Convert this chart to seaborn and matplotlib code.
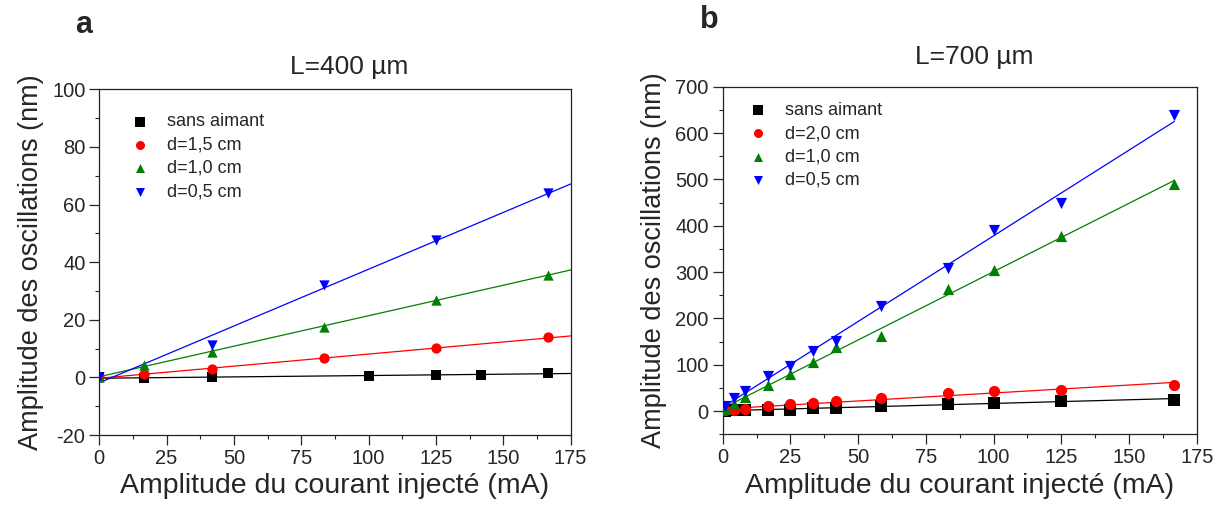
import numpy as np
import pandas as pd
import matplotlib
matplotlib.use('Agg')
import matplotlib.pyplot as plt
from matplotlib.ticker import MultipleLocator
import seaborn as sns

# panel a : L = 400 um
x_a_black = [0, 16.7, 41.7, 100, 125, 141.7, 166.7]
y_a_black = [0, -0.3, 0.0, 0.5, 0.9, 0.9, 1.5]
x_a = [0, 16.7, 41.7, 83.3, 125, 166.7]
y_a_red = [0, 1.2, 2.8, 6.6, 10.1, 13.9]
y_a_green = [0, 4.3, 8.9, 17.6, 26.9, 35.5]
x_a_blue = [0, 41.7, 83.3, 125, 166.7]
y_a_blue = [0, 11.2, 32.1, 47.7, 63.9]
labels_a = ['sans aimant', 'd=1,5 cm', 'd=1,0 cm', 'd=0,5 cm']

# panel b : L = 700 um
x_b = [0.83, 4.17, 8.33, 16.7, 25, 33.3, 41.7, 58.3, 83.3, 100, 125, 166.7]
y_b_black = [1, 1.4, 1.4, 3.5, 3.5, 6.4, 7.1, 10.7, 14.3, 17.8, 22.2, 25]
y_b_red = [3, 1.4, 5, 10, 14.3, 17.1, 21.4, 28.6, 38.7, 43, 46.5, 56]
y_b_green = [5, 15.7, 30, 56.5, 80.2, 105.3, 137.6, 162.6, 263, 303.8, 377.6, 491]
y_b_blue = [12, 28.6, 43, 76.5, 98, 130, 151.8, 227, 309.6, 390, 449, 639]
labels_b = ['sans aimant', 'd=2,0 cm', 'd=1,0 cm', 'd=0,5 cm']

colors = ['black', '#ff0000', '#008000', '#0000ff']
markers = ['s', 'o', '^', 'v']

sns.set_style('ticks')
plt.rcParams['font.family'] = ['Liberation Sans', 'DejaVu Sans']
plt.rcParams['axes.unicode_minus'] = False

fig = plt.figure(figsize=(12.24, 5.05), dpi=100)
ax_a = fig.add_axes([0.0811, 0.1386, 0.3851, 0.6846])
ax_b = fig.add_axes([0.5904, 0.1400, 0.3873, 0.6883])

series_a = [(x_a_black, y_a_black), (x_a, y_a_red), (x_a, y_a_green), (x_a_blue, y_a_blue)]
series_b = [(x_b, y_b_black), (x_b, y_b_red), (x_b, y_b_green), (x_b, y_b_blue)]


def draw(ax, series, labels, xlim, ylim, ymaj, ymin, truncate, msize, anchor):
    ax.set_xlim(*xlim)
    ax.set_ylim(*ylim)
    for (xs, ys), lab, c, m in zip(series, labels, colors, markers):
        df = pd.DataFrame({'x': xs, 'y': ys})
        sns.regplot(data=df, x='x', y='y', ax=ax, scatter=False, ci=None,
                    truncate=truncate, color=c, line_kws={'lw': 0.9})
        sns.scatterplot(data=df, x='x', y='y', ax=ax, color=c, marker=m,
                        s=msize, edgecolor=c, linewidth=0, label=lab, zorder=3)
    ax.set_xlim(*xlim)
    ax.set_ylim(*ylim)
    ax.xaxis.set_major_locator(MultipleLocator(25))
    ax.xaxis.set_minor_locator(MultipleLocator(12.5))
    ax.yaxis.set_major_locator(MultipleLocator(ymaj))
    ax.yaxis.set_minor_locator(MultipleLocator(ymin))
    ax.tick_params(which='major', direction='out', length=7, width=0.9,
                   labelsize=14.5, pad=3, top=False, right=False)
    ax.tick_params(which='minor', direction='out', length=3, width=0.8,
                   top=False, right=False)
    for sp in ax.spines.values():
        sp.set_visible(True)
        sp.set_linewidth(0.9)
        sp.set_color('#222222')
    ax.set_xlabel('Amplitude du courant injecté (mA)', fontsize=20.5, labelpad=4)
    ax.set_ylabel('Amplitude des oscillations (nm)', fontsize=19.5, labelpad=6)
    leg = ax.legend(loc='upper left', frameon=False, fontsize=13,
                    handletextpad=1.0, labelspacing=0.35, borderaxespad=0.6,
                    borderpad=0.5, handlelength=1.0, bbox_to_anchor=anchor)
    for h in leg.legend_handles:
        h.set_sizes([42])


draw(ax_a, series_a, labels_a, (0, 175), (-20, 100), 20, 10, False, 55, (0.026, 0.988))
draw(ax_b, series_b, labels_b, (0, 175), (-50, 700), 100, 50, True, 65, (0.013, 1.014))

ax_a.text(0.53, 1.03, 'L=400 µm', transform=ax_a.transAxes, ha='center',
          va='bottom', fontsize=19)
ax_b.text(0.53, 1.05, 'L=700 µm', transform=ax_b.transAxes, ha='center',
          va='bottom', fontsize=19)
fig.text(0.061, 0.95, 'a', fontsize=22, fontweight='bold', va='center')
fig.text(0.572, 0.96, 'b', fontsize=22, fontweight='bold', va='center')

fig.savefig('out.png', dpi=100)
